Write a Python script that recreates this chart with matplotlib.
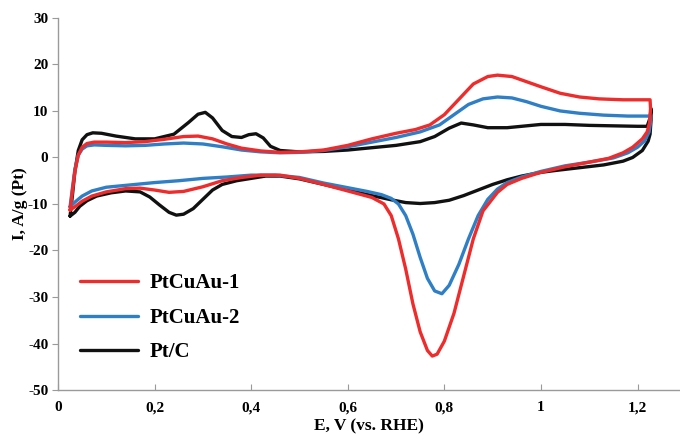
import matplotlib
matplotlib.use("Agg")
import matplotlib.pyplot as plt
from matplotlib.ticker import FuncFormatter, MultipleLocator

# CV loops: forward sweep from 0.025 V up to 1.226 V, then back down
pt_c_e = [0.025, 0.03, 0.035, 0.042, 0.05, 0.06, 0.072, 0.09, 0.12, 0.16, 0.2, 0.24, 0.27, 0.29,
          0.305, 0.32, 0.34, 0.36, 0.38, 0.395, 0.41, 0.425, 0.44, 0.46, 0.5, 0.55, 0.6, 0.65,
          0.7, 0.75, 0.78, 0.81, 0.835, 0.86, 0.89, 0.93, 0.97, 1.0, 1.05, 1.1, 1.15, 1.2, 1.22,
          1.226, 1.228, 1.228, 1.226, 1.222, 1.21, 1.19, 1.17, 1.13, 1.08, 1.03, 1.0, 0.96, 0.93,
          0.9, 0.87, 0.84, 0.81, 0.78, 0.75, 0.72, 0.69, 0.65, 0.6, 0.55, 0.5, 0.46, 0.43, 0.4,
          0.37, 0.34, 0.32, 0.3, 0.28, 0.26, 0.245, 0.23, 0.21, 0.19, 0.17, 0.14, 0.11, 0.08,
          0.06, 0.045, 0.035, 0.025]
pt_c_i = [-12.6, -8.0, -3.0, 1.5, 3.8, 4.9, 5.3, 5.2, 4.6, 4.0, 4.0, 5.0, 7.5, 9.3,
          9.7, 8.5, 5.8, 4.5, 4.3, 4.9, 5.1, 4.2, 2.4, 1.5, 1.2, 1.3, 1.6, 2.1,
          2.6, 3.4, 4.5, 6.3, 7.4, 7.0, 6.4, 6.4, 6.8, 7.1, 7.1, 6.9, 6.8, 6.7, 6.7,
          8.5, 10.5, 8.0, 5.0, 3.5, 1.5, 0.0, -0.8, -1.6, -2.2, -2.8, -3.2, -4.0, -4.8,
          -5.8, -7.0, -8.2, -9.2, -9.7, -9.9, -9.7, -9.1, -8.2, -7.0, -5.8, -4.6, -4.0, -4.0, -4.5,
          -5.0, -5.8, -7.0, -9.0, -11.0, -12.2, -12.4, -11.8, -10.2, -8.5, -7.4, -7.2, -7.6, -8.3,
          -9.3, -10.5, -11.8, -12.6]

ptcuau1_e = [0.025, 0.03, 0.035, 0.042, 0.05, 0.06, 0.075, 0.1, 0.14, 0.18, 0.22, 0.26, 0.29,
             0.32, 0.35, 0.38, 0.42, 0.46, 0.5, 0.55, 0.6, 0.65, 0.7, 0.74, 0.77, 0.8, 0.83, 0.86,
             0.89, 0.91, 0.94, 0.97, 1.0, 1.04, 1.08, 1.12, 1.17, 1.226,
             1.227, 1.225, 1.22, 1.21, 1.19, 1.17, 1.14, 1.1, 1.05, 1.0, 0.96, 0.93, 0.91, 0.88,
             0.86, 0.84, 0.82, 0.8, 0.785, 0.775, 0.765, 0.75, 0.735, 0.72, 0.705, 0.69, 0.675,
             0.65, 0.6, 0.55, 0.5, 0.46, 0.42, 0.38, 0.34, 0.3, 0.26, 0.23, 0.2, 0.17, 0.14, 0.1,
             0.07, 0.05, 0.035, 0.025]
ptcuau1_i = [-11.3, -7.0, -3.0, 0.5, 2.2, 3.0, 3.3, 3.3, 3.2, 3.4, 3.9, 4.5, 4.6,
             4.0, 2.9, 2.0, 1.4, 1.1, 1.2, 1.6, 2.6, 4.0, 5.2, 6.0, 7.0, 9.2, 12.5, 15.8,
             17.4, 17.7, 17.4, 16.3, 15.2, 13.8, 13.0, 12.6, 12.4, 12.4,
             10.5, 7.5, 5.5, 4.0, 2.2, 1.0, -0.2, -1.0, -2.0, -3.2, -4.5, -5.8, -7.5, -11.5,
             -17.5, -25.5, -33.5, -39.5, -42.3, -42.7, -41.5, -37.5, -31.5, -24.0, -17.5, -12.5, -10.0,
             -8.6, -7.2, -5.8, -4.5, -3.8, -3.8, -4.3, -5.0, -6.3, -7.3, -7.5, -7.0, -6.6, -6.7, -7.4,
             -8.3, -9.4, -10.6, -11.3]

ptcuau2_e = [0.025, 0.03, 0.035, 0.042, 0.05, 0.06, 0.075, 0.1, 0.14, 0.18, 0.22, 0.26, 0.3,
             0.34, 0.38, 0.42, 0.46, 0.5, 0.55, 0.6, 0.65, 0.7, 0.75, 0.79, 0.82, 0.85, 0.88,
             0.91, 0.94, 0.97, 1.0, 1.04, 1.08, 1.13, 1.18, 1.226,
             1.227, 1.224, 1.215, 1.2, 1.18, 1.15, 1.1, 1.05, 1.0, 0.96, 0.93, 0.91, 0.89, 0.87,
             0.85, 0.83, 0.81, 0.795, 0.78, 0.765, 0.75, 0.735, 0.72, 0.705, 0.69, 0.67, 0.64,
             0.6, 0.55, 0.5, 0.45, 0.4, 0.35, 0.3, 0.25, 0.2, 0.15, 0.1, 0.07, 0.05, 0.035, 0.025]
ptcuau2_i = [-10.6, -6.5, -2.5, 0.5, 1.8, 2.5, 2.7, 2.6, 2.5, 2.6, 2.9, 3.1, 2.9,
             2.3, 1.6, 1.2, 1.0, 1.1, 1.5, 2.3, 3.3, 4.3, 5.5, 7.0, 9.2, 11.4, 12.6,
             13.0, 12.8, 12.0, 11.0, 10.0, 9.5, 9.1, 8.9, 8.9,
             7.5, 5.5, 3.6, 2.2, 1.0, -0.1, -1.0, -1.8, -3.0, -4.2, -5.4, -6.8, -9.0, -12.5,
             -17.5, -23.0, -27.5, -29.3, -28.7, -26.0, -21.5, -16.5, -12.5, -10.0, -8.8, -8.0, -7.3,
             -6.5, -5.5, -4.3, -3.8, -3.8, -4.2, -4.5, -5.0, -5.4, -5.9, -6.4, -7.2, -8.3, -9.6, -10.6]

x_ticks = [0, 0.2, 0.4, 0.6, 0.8, 1.0, 1.2]

plt.rcParams['font.family'] = ['Liberation Serif', 'DejaVu Serif']
plt.rcParams['font.weight'] = 'bold'

fig = plt.figure(figsize=(6.8, 4.44), dpi=100)
ax = fig.add_axes([0.0853, 0.1216, 0.9147, 0.838])

lw = 2.4
line_kw = dict(lw=lw, solid_joinstyle='round', solid_capstyle='round')
l_pt, = ax.plot(pt_c_e, pt_c_i, color='#111111', label='Pt/C', **line_kw)
l_2, = ax.plot(ptcuau2_e, ptcuau2_i, color='#2f7fc6', label='PtCuAu-2', **line_kw)
l_1, = ax.plot(ptcuau1_e, ptcuau1_i, color='#ee2c2c', label='PtCuAu-1', **line_kw)

ax.set_xlim(0, 1.288)
ax.set_ylim(-50, 30)
ax.set_xticks(x_ticks)
ax.yaxis.set_major_locator(MultipleLocator(10))


def comma_fmt(v, pos):
    s = f"{v:.1f}".rstrip('0').rstrip('.')
    return s.replace('.', ',')


ax.xaxis.set_major_formatter(FuncFormatter(comma_fmt))
ax.yaxis.set_major_formatter(FuncFormatter(lambda v, p: f"{v:.0f}"))

for side in ('top', 'right'):
    ax.spines[side].set_visible(False)
for side in ('left', 'bottom'):
    ax.spines[side].set_color('#9a9a9a')
    ax.spines[side].set_linewidth(1.0)

ax.tick_params(axis='x', direction='in', length=4, color='#9a9a9a', pad=8, labelsize=11)
ax.tick_params(axis='y', direction='out', length=4, color='#9a9a9a', pad=3, labelsize=11)
for lab in ax.get_xticklabels() + ax.get_yticklabels():
    lab.set_fontweight('bold')

ax.set_xlabel('E, V (vs. RHE)', fontsize=12.5, fontweight='bold', labelpad=3)
ax.set_ylabel('I, A/g (Pt)', fontsize=12.5, fontweight='bold', labelpad=0)

ax.legend(handles=[l_1, l_2, l_pt], loc='center left', bbox_to_anchor=(0.035, 0.194),
          frameon=False, handlelength=2.8, handletextpad=0.55,
          labelspacing=0.7, borderpad=0, borderaxespad=0,
          prop={'weight': 'bold', 'size': 15})

fig.savefig('out.png', dpi=100)
